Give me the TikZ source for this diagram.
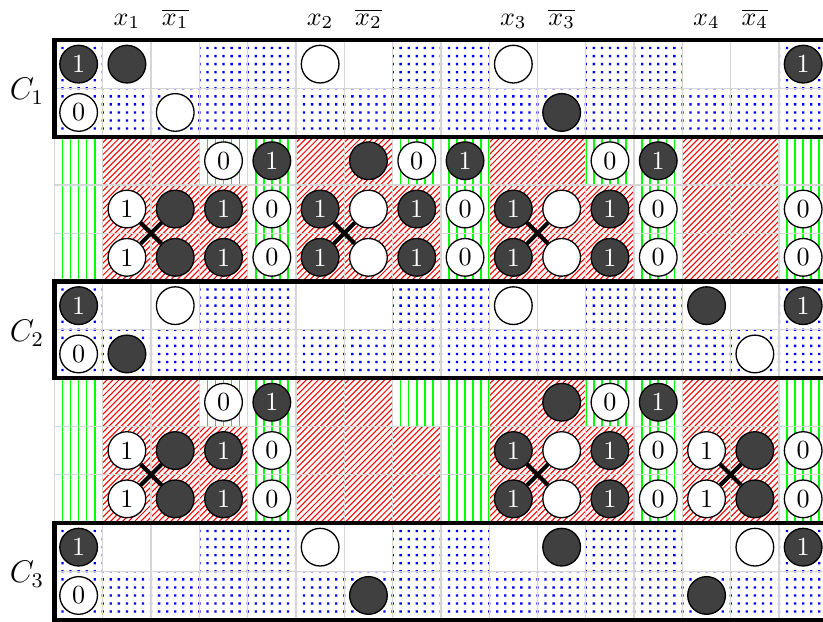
\documentclass[tikz,border=0pt]{standalone}
\begin{document}
\begin{tikzpicture}[x=0.65cm,y=0.65cm,
  stone/.style={circle,draw=black,line width=0.5pt,minimum size=0.507cm,inner sep=0pt,font=\normalsize},
  bst/.style={stone,fill=black!75,text=white},
  wst/.style={stone,fill=white,text=black},
  dotfill/.style={fill=blue},
  greenline/.style={draw=green,line width=0.6pt},
  redline/.style={draw=red,line width=0.4pt},
  gridline/.style={draw=black!16,line width=0.5pt},
  clausebox/.style={draw=black,line width=1.6pt},
  crossline/.style={draw=black,line width=1.6pt},
  lbl/.style={anchor=base,inner sep=0pt}]
\useasboundingbox (-1.128,0.828) rectangle (15.911,-12.029);
\clip (-1.128,0.828) rectangle (15.911,-12.029);
% ---------- dotted clause bands ----------
\foreach \t in {0,5,10}{
  \fill[dotfill] \foreach \i in {0,...,96}{\foreach \j in {0,...,12}{ (\i/6-0.024,-\t-\j/6-0.024) rectangle ++(0.048,0.048) }};
}
\foreach \r in {0,5,10}{\foreach \c in {1,2,5,6,9,10,13,14}{\fill[white] (\c,-\r) rectangle ++(1,-1);}}
% ---------- gadget bands: green lines ----------
\foreach \t in {2,7}{
  \draw[greenline] \foreach \i in {0,...,96}{ (\i/6,-\t) -- ++(0,-3) };
}
% ---------- gadget bands: red hatched regions ----------
\foreach \t in {2,7}{
  \begin{scope}
    \clip \foreach \b in {1,5,9}{ (\b,-\t) -- ++(2,0) -- ++(0,-1) -- ++(1,0) -- ++(0,-2) -- ++(-3,0) -- cycle } (13,-\t) rectangle ++(2,-3);
    \fill[white] (0,-\t) rectangle (16,-\t-3);
    \draw[redline] \foreach \k in {0,...,152}{ (\k/8-3,-\t-3) -- ++(3,3) };
  \end{scope}
}
% ---------- grid ----------
\foreach \c in {0,...,16}{\draw[gridline] (\c,0) -- (\c,-12);}
\foreach \r in {0,...,12}{\draw[gridline] (0,-\r) -- (17,-\r);}
% ---------- clause boxes ----------
\draw[clausebox] (0,0) rectangle (16.5,-2);
\draw[clausebox] (0,-5) rectangle (16.5,-7);
\draw[clausebox] (0,-10) rectangle (16.5,-12);
% ---------- labels ----------
\node[lbl] (lx1) at (1.5,0.31) {$x_1$};
\node[lbl] (lnx1) at (2.5,0.31) {$\overline{x_1}$};
\node[lbl] (lx2) at (5.5,0.31) {$x_2$};
\node[lbl] (lnx2) at (6.5,0.31) {$\overline{x_2}$};
\node[lbl] (lx3) at (9.5,0.31) {$x_3$};
\node[lbl] (lnx3) at (10.5,0.31) {$\overline{x_3}$};
\node[lbl] (lx4) at (13.5,0.31) {$x_4$};
\node[lbl] (lnx4) at (14.5,0.31) {$\overline{x_4}$};
\node[lbl,font=\large] (lc1) at (-0.57,-1.24) {$C_1$};
\node[lbl,font=\large] (lc2) at (-0.57,-6.24) {$C_2$};
\node[lbl,font=\large] (lc3) at (-0.57,-11.24) {$C_3$};
% ---------- black stones ----------
\foreach \c/\r/\t in {0/0/1,1/0/,15/0/1,10/1/,
  4/2/1,6/2/,8/2/1,12/2/1,
  2/3/,3/3/1,5/3/1,7/3/1,9/3/1,11/3/1,
  2/4/,3/4/1,5/4/1,7/4/1,9/4/1,11/4/1,
  0/5/1,13/5/,15/5/1,1/6/,
  4/7/1,10/7/,12/7/1,
  2/8/,3/8/1,9/8/1,11/8/1,14/8/,
  2/9/,3/9/1,9/9/1,11/9/1,14/9/,
  0/10/1,10/10/,15/10/1,6/11/,13/11/}
  {\node[bst] (s-\c-\r) at (\c+0.5,-\r-0.5) {\t};}
% ---------- white stones ----------
\foreach \c/\r/\t in {5/0/,9/0/,0/1/0,2/1/,
  3/2/0,7/2/0,11/2/0,
  1/3/1,4/3/0,6/3/,8/3/0,10/3/,12/3/0,15/3/0,
  1/4/1,4/4/0,6/4/,8/4/0,10/4/,12/4/0,15/4/0,
  2/5/,9/5/,0/6/0,14/6/,
  3/7/0,11/7/0,
  1/8/1,4/8/0,10/8/,12/8/0,13/8/1,15/8/0,
  1/9/1,4/9/0,10/9/,12/9/0,13/9/1,15/9/0,
  5/10/,14/10/,0/11/0}
  {\node[wst] (s-\c-\r) at (\c+0.5,-\r-0.5) {\t};}
% ---------- crossings ----------
\foreach \c/\cc/\r/\rr in {1/2/3/4,5/6/3/4,9/10/3/4,1/2/8/9,9/10/8/9,13/14/8/9}
  {\draw[crossline] (s-\c-\r) -- (s-\cc-\rr);
   \draw[crossline] (s-\c-\rr) -- (s-\cc-\r);}
\end{tikzpicture}
\end{document}
